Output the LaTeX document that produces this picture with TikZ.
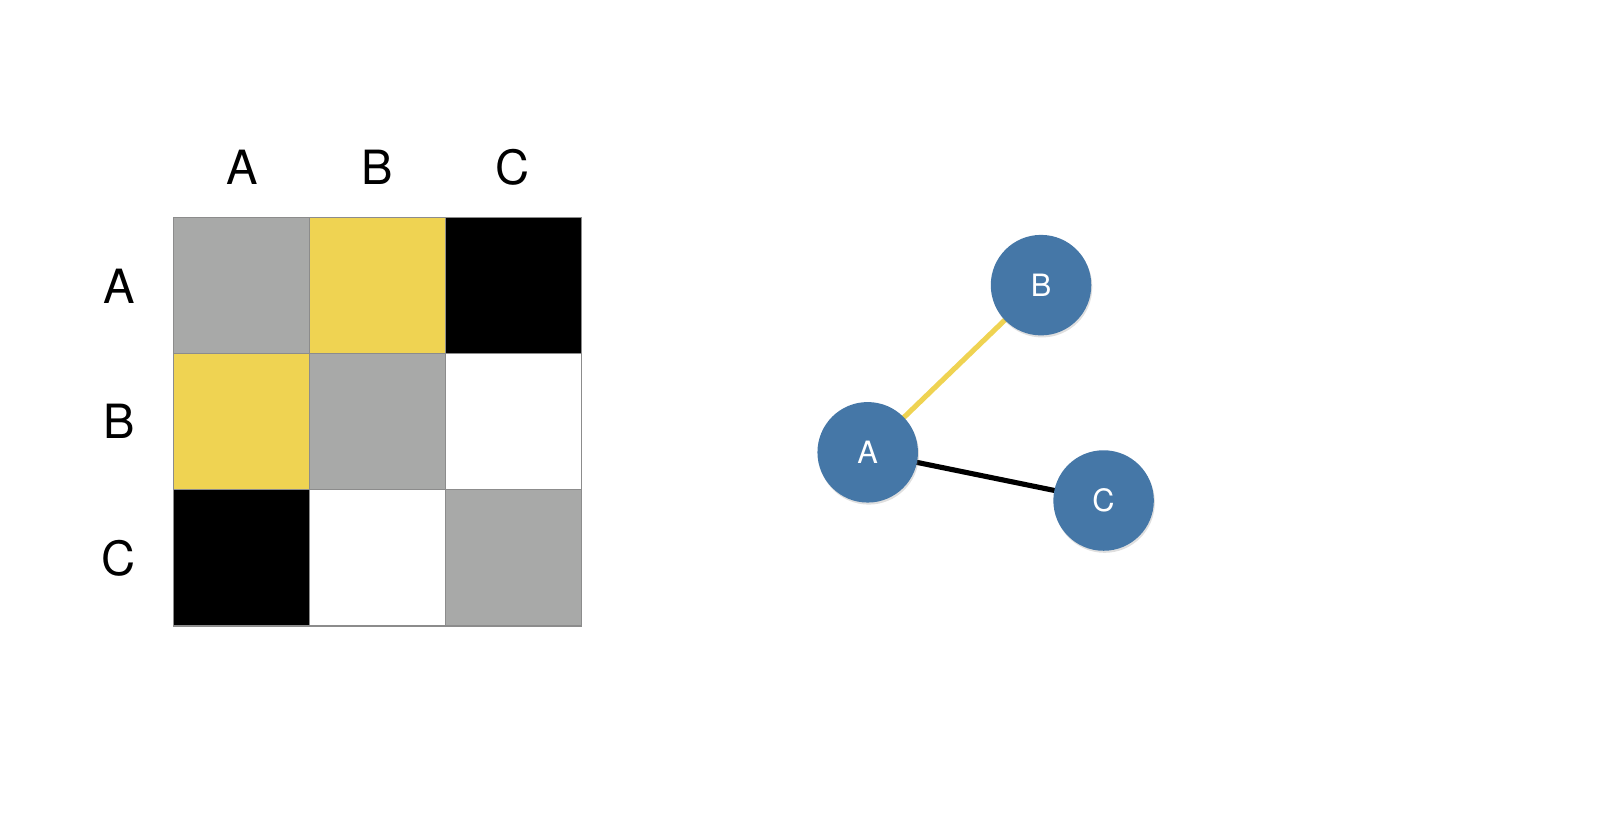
\documentclass[tikz,border=0pt]{standalone}
\usepackage{fontspec}
\setmainfont{TeX Gyre Heros}
\usetikzlibrary{shadows}
\definecolor{cgray}{HTML}{A8A9A8}
\definecolor{cyel}{HTML}{EFD352}
\definecolor{cblue}{HTML}{4577A7}
\begin{document}
\begin{tikzpicture}[x=1pt,y=-1pt,
  cell/.style={draw=gray!90,line width=1.5pt},
  lab/.style={font=\fontsize{46}{50}\selectfont},
  vert/.style={circle,fill=cblue,minimum size=98pt,inner sep=0pt,text=white,font=\fontsize{30}{32}\selectfont,
    drop shadow={shadow xshift=1pt,shadow yshift=-2pt,opacity=0.25}}]
\useasboundingbox (0,0) rectangle (1560,809);
\def\x{169}\def\y{212}\def\s{132.7}
\foreach \r/\c/\col in {0/0/cgray,0/1/cyel,0/2/black,1/0/cyel,1/1/cgray,1/2/white,2/0/black,2/1/white,2/2/cgray}
  \filldraw[cell,fill=\col] ({\x+\c*\s},{\y+\r*\s}) rectangle ++(\s,\s);
\node[lab] (ca) at (236,163) {A};
\node[lab] (cb) at (368,163) {B};
\node[lab] (cc) at (500,163) {C};
\node[lab] (ra) at (116,279) {A};
\node[lab] (rb) at (116,411) {B};
\node[lab] (rc) at (116,544) {C};
\draw[cyel,line width=5pt] (846,441) -- (1015,278);
\draw[black,line width=5pt] (846,441) -- (1076,488);
\node[vert] (A) at (846,441) {A};
\node[vert] (B) at (1015,278) {B};
\node[vert] (C) at (1076,488) {C};
\end{tikzpicture}
\end{document}
